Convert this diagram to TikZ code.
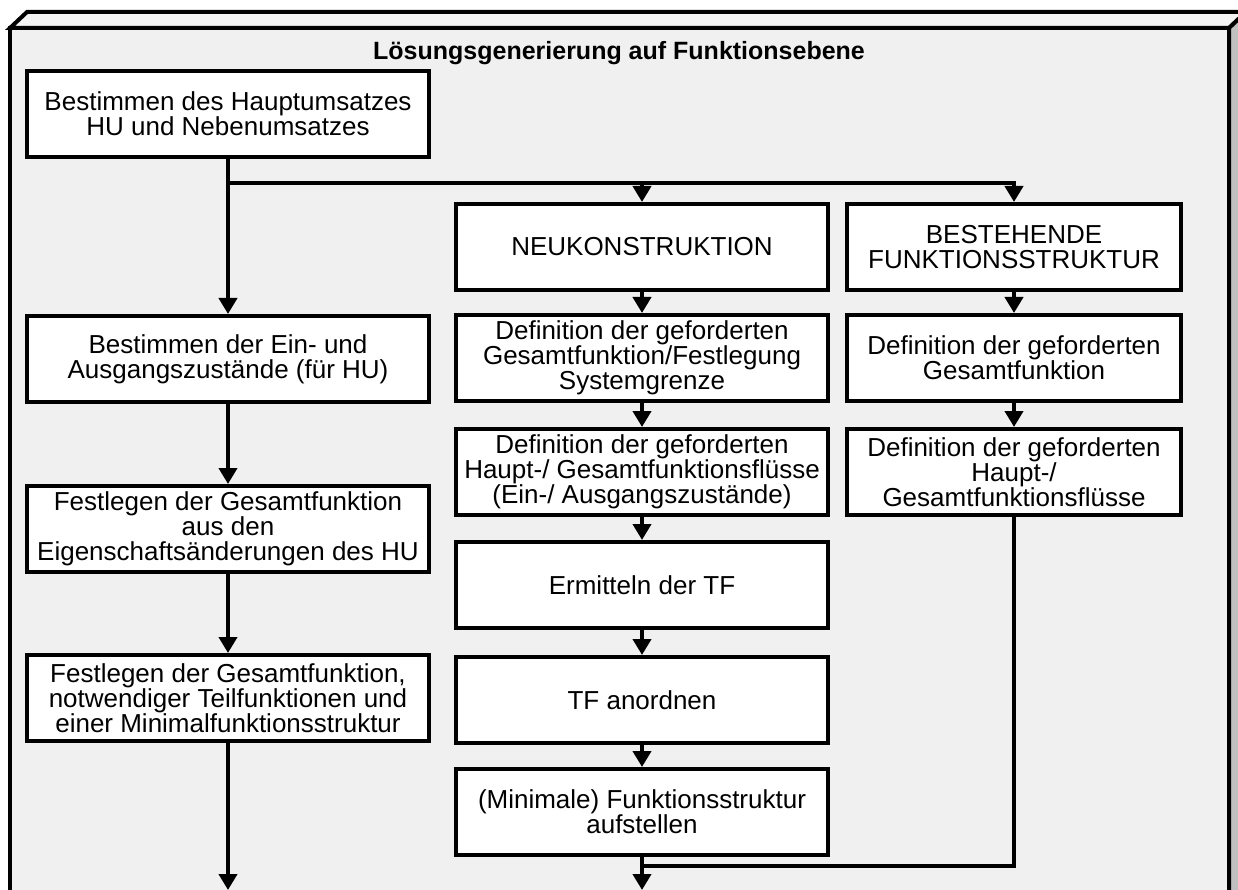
\documentclass[tikz,border=0pt]{standalone}
\usepackage{fontspec}
\setmainfont{Liberation Sans}
\usetikzlibrary{arrows.meta, positioning}

\definecolor{frameFront}{HTML}{F0F0F0}
\definecolor{frameTop}{HTML}{F3F3F3}
\definecolor{frameSide}{HTML}{C0C0C0}

\begin{document}
\begin{tikzpicture}[
  x=1pt, y=-1pt,
  stepbox/.style={draw, fill=white, line width=4pt, align=center, inner sep=0pt,
                  minimum width=#1, minimum height=86pt,
                  font=\fontsize{26}{25}\selectfont},
  flow/.style={line width=4pt, -{Triangle[length=16pt, width=18pt]}},
  link/.style={line width=4pt},
]
  \useasboundingbox (0,0) rectangle (1238,890);

  % raised panel behind the flow
  \begin{scope}
    \clip (0,0) rectangle (1238,890);
    \filldraw[fill=frameTop, line width=4pt] (10,28) -- (27,12) -- (1246,12) -- (1229,28) -- cycle;
    \filldraw[fill=frameSide, line width=4pt] (1229,28) -- (1246,12) -- (1246,920) -- (1229,936) -- cycle;
    \filldraw[fill=frameFront, line width=4pt] (10,28) rectangle (1229,936);
  \end{scope}

  \node[font=\fontsize{25}{27}\selectfont\bfseries, anchor=base] (title) at (619,60) {Lösungsgenerierung auf Funktionsebene};

  \node[stepbox=402pt, anchor=north] (hu) at (228,69) {Bestimmen des Hauptumsatzes\\HU und Nebenumsatzes};
  \node[stepbox=402pt, below=155pt of hu] (einaus) {Bestimmen der Ein- und\\Ausgangszustände (für HU)};
  \node[stepbox=402pt, below=80pt of einaus] (gesamt) {Festlegen der Gesamtfunktion\\aus den\\Eigenschaftsänderungen des HU};
  \node[stepbox=402pt, below=79pt of gesamt] (minimal) {Festlegen der Gesamtfunktion,\\notwendiger Teilfunktionen und\\einer Minimalfunktionsstruktur};

  \node[stepbox=372pt, anchor=north] (neu) at (642,202) {NEUKONSTRUKTION};
  \node[stepbox=372pt, below=21pt of neu] (defgesamt) {Definition der geforderten\\Gesamtfunktion/Festlegung\\Systemgrenze};
  \node[stepbox=372pt, below=24pt of defgesamt] (defflows) {Definition der geforderten\\Haupt-/ Gesamtfunktionsflüsse\\(Ein-/ Ausgangszustände)};
  \node[stepbox=372pt, below=23pt of defflows] (ermitteln) {Ermitteln der TF};
  \node[stepbox=372pt, below=25pt of ermitteln] (anordnen) {TF anordnen};
  \node[stepbox=372pt, below=22pt of anordnen] (aufstellen) {(Minimale) Funktionsstruktur\\aufstellen};

  \node[stepbox=334pt, right=15pt of neu] (bestehend) {BESTEHENDE\\FUNKTIONSSTRUKTUR};
  \node[stepbox=334pt, below=21pt of bestehend] (rgesamt) {Definition der geforderten\\Gesamtfunktion};
  \node[stepbox=334pt, below=24pt of rgesamt] (rflows) {Definition der geforderten\\Haupt-/\\Gesamtfunktionsflüsse};

  \coordinate[below=24pt of hu] (split);
  \coordinate[below=147pt of minimal] (outL);
  \coordinate[below=9pt of aufstellen] (join);
  \coordinate[below=33pt of aufstellen] (outM);

  \draw[flow] (hu) -- (einaus);
  \draw[flow] (split) -| (neu.north);
  \draw[flow] (split) -| (bestehend.north);
  \draw[flow] (einaus) -- (gesamt);
  \draw[flow] (gesamt) -- (minimal);
  \draw[flow] (minimal) -- (outL);

  \draw[flow] (neu) -- (defgesamt);
  \draw[flow] (defgesamt) -- (defflows);
  \draw[flow] (defflows) -- (ermitteln);
  \draw[flow] (ermitteln) -- (anordnen);
  \draw[flow] (anordnen) -- (aufstellen);
  \draw[flow] (aufstellen) -- (outM);

  \draw[flow] (bestehend) -- (rgesamt);
  \draw[flow] (rgesamt) -- (rflows);
  \draw[link] (rflows.south) |- (join);
\end{tikzpicture}
\end{document}
